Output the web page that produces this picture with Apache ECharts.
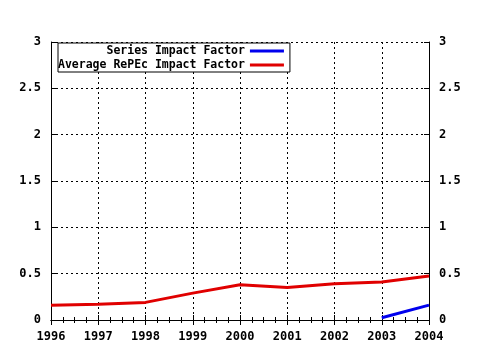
<!DOCTYPE html>
<html><head><meta charset="utf-8">
<script src="https://cdn.jsdelivr.net/npm/echarts@6/dist/echarts.min.js"></script>
<style>html,body{margin:0;padding:0;background:#fff}#c{width:480px;height:350px}</style>
</head><body><div id="c"></div>
<script>
const years = [1996, 1997, 1998, 1999, 2000, 2001, 2002, 2003, 2004];
const seriesYears = [2003, 2004];
const seriesImpact = [0.025, 0.16];
const avgImpact = [0.16, 0.17, 0.19, 0.29, 0.38, 0.35, 0.39, 0.41, 0.475];
const seriesNames = ['Series Impact Factor', 'Average RePEc Impact Factor'];

const font = 'DejaVu Sans Mono';
const pairs = (xs, ys) => xs.map((x, i) => [x, ys[i]]);
const padLen = Math.max(...seriesNames.map(s => s.length));

function xAx(pos, labels) {
  return {
    type: 'value', position: pos, min: years[0], max: years[years.length - 1], interval: 1,
    axisLine: { show: true, lineStyle: { color: '#000', width: 1 } },
    axisTick: { show: true, inside: true, length: 5, lineStyle: { color: '#000' } },
    minorTick: { show: true, splitNumber: 4, length: 3, lineStyle: { color: '#000' } },
    axisLabel: { show: labels, color: '#000', fontFamily: font, fontWeight: 'bold', fontSize: 12, margin: 11,
      formatter: v => String(v) },
    splitLine: { show: labels, lineStyle: { color: '#000', type: [2, 3], width: 1 } },
    minorSplitLine: { show: false }
  };
}
function yAx(pos, grid) {
  return {
    type: 'value', position: pos, min: 0, max: 3, interval: 0.5,
    axisLine: { show: true, lineStyle: { color: '#000', width: 1 } },
    axisTick: { show: true, inside: true, length: 5, lineStyle: { color: '#000' } },
    axisLabel: { show: true, color: '#000', fontFamily: font, fontWeight: 'bold', fontSize: 12, margin: 10,
      formatter: v => String(v) },
    splitLine: { show: grid, lineStyle: { color: '#000', type: [2, 3], width: 1 } }
  };
}

const chart = echarts.init(document.getElementById('c'), null, { renderer: 'canvas' });
chart.setOption({
  backgroundColor: '#fff',
  animation: false,
  grid: { left: 51, right: 51, top: 42, bottom: 30 },
  xAxis: [xAx('bottom', true), xAx('top', false)],
  yAxis: [yAx('left', true), yAx('right', false)],
  legend: {
    left: 58, top: 43, orient: 'vertical', align: 'right',
    padding: [2, 6, 1, 0], itemGap: 2, itemWidth: 34, itemHeight: 3,
    backgroundColor: '#fff', borderColor: '#000', borderWidth: 1,
    icon: 'rect',
    textStyle: { fontFamily: font, fontWeight: 'bold', fontSize: 11.5, color: '#000' },
    formatter: n => n.padStart(padLen, ' '),
    data: seriesNames
  },
  series: [
    { name: seriesNames[0], type: 'line', data: pairs(seriesYears, seriesImpact), color: '#0000ee',
      symbol: 'none', lineStyle: { width: 3 }, z: 3 },
    { name: seriesNames[1], type: 'line', data: pairs(years, avgImpact), color: '#e00000',
      symbol: 'none', lineStyle: { width: 3 }, z: 3 }
  ]
});
</script></body></html>
